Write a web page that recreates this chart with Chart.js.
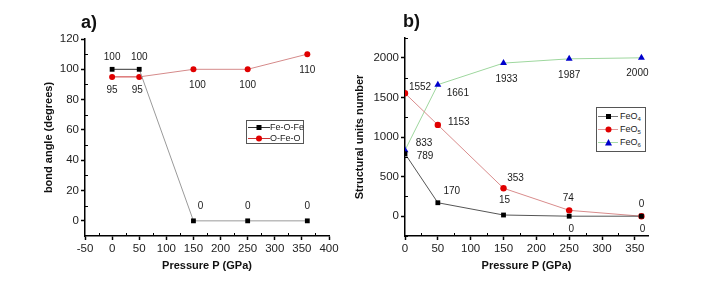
<!DOCTYPE html>
<html>
<head>
<meta charset="utf-8">
<script src="https://cdn.jsdelivr.net/npm/chart.js@4/dist/chart.umd.min.js"></script>
<style>
  html, body { margin: 0; padding: 0; background: #fff; }
  #wrap { position: relative; width: 706px; height: 287px; overflow: hidden; background: #fff; }
  #cA { position: absolute; left: 0; top: 0; }
  #cB { position: absolute; left: 350px; top: 0; }
  .legend { position: absolute; border: 1px solid #555; background: #fff;
            font-family: "Liberation Sans", Arial, sans-serif; font-size: 9px; color: #222; box-sizing: border-box; }
  .legend .row { position: absolute; left: 0; height: 11px; line-height: 11px; white-space: nowrap; }
  .legend svg { position: absolute; top: 1px; }
  .legend span { position: absolute; top: 0; }
  .legend sub { font-size: 6px; vertical-align: -2px; line-height: 0; }
</style>
</head>
<body>
<div id="wrap">
  <canvas id="cA" width="350" height="287"></canvas>
  <canvas id="cB" width="356" height="287"></canvas>

  <div class="legend" style="left:246px; top:120px; width:58px; height:24px;">
    <div class="row" style="top:1px;">
      <svg width="22" height="9" style="left:1px"><line x1="0" y1="4.5" x2="22" y2="4.5" stroke="#333" stroke-width="1"/><rect x="8.5" y="2" width="5" height="5" fill="#000"/></svg>
      <span style="left:23px">Fe-O-Fe</span>
    </div>
    <div class="row" style="top:12px;">
      <svg width="22" height="9" style="left:1px"><line x1="0" y1="4.5" x2="22" y2="4.5" stroke="#cc3333" stroke-width="1"/><circle cx="11" cy="4.5" r="3" fill="#e00000"/></svg>
      <span style="left:23px">O-Fe-O</span>
    </div>
  </div>

  <div class="legend" style="left:596px; top:107px; width:50px; height:45px;">
    <div class="row" style="top:3px;">
      <svg width="20" height="9" style="left:1px"><line x1="0" y1="4.5" x2="20" y2="4.5" stroke="#777" stroke-width="1"/><rect x="8" y="2" width="5" height="5" fill="#000"/></svg>
      <span style="left:23px">FeO<sub>4</sub></span>
    </div>
    <div class="row" style="top:16px;">
      <svg width="20" height="9" style="left:1px"><line x1="0" y1="4.5" x2="20" y2="4.5" stroke="#e09a9a" stroke-width="1"/><circle cx="10.5" cy="4.5" r="3" fill="#e00000"/></svg>
      <span style="left:23px">FeO<sub>5</sub></span>
    </div>
    <div class="row" style="top:29px;">
      <svg width="20" height="9" style="left:1px"><line x1="0" y1="4.5" x2="20" y2="4.5" stroke="#a8dca8" stroke-width="1"/><polygon points="10.5,1 14,7.5 7,7.5" fill="#0000cc"/></svg>
      <span style="left:23px">FeO<sub>6</sub></span>
    </div>
  </div>
</div>

<script>
// ---------------- DATA ----------------
// Panel a) bond angles
const pressureA = [0, 50, 150, 250, 360];
const feOFe = [100, 100, 0, 0, 0];
const oFeO = [95, 95, 100, 100, 110];
const yTicksA = [0, 20, 40, 60, 80, 100, 120];
const xTicksA = [-50, 0, 50, 100, 150, 200, 250, 300, 350, 400];

// Panel b) structural units
const pressureB = [0, 50, 150, 250, 360];
const feO4 = [789, 170, 15, 0, 0];
const feO5 = [1552, 1153, 353, 74, 0];
const feO6 = [833, 1661, 1933, 1987, 2000];
const yTicksB = [0, 500, 1000, 1500, 2000];
const xTicksB = [0, 50, 100, 150, 200, 250, 300, 350];

// ---------------- STYLE ----------------
const FONT = '"Liberation Sans", Arial, Helvetica, sans-serif';
Chart.defaults.font.family = FONT;
Chart.defaults.color = '#222';

// label offsets (pixels, text centre relative to point)
const offsetsA = [
  [[0, -12], [0, -12], [7, -15], [0, -15], [0, -15]],
  [[0, 13], [-2, 13], [4, 16], [0, 16], [0, 16]]
];
const offsetsB = [
  [[20, 3], [14, -11], [1, -15], [2, 13], [1, 13]],
  [[15, -6], [21, -3], [12, -10], [-1, -12], [0, -12]],
  [[19, -7], [20, 9], [3, 16], [0, 16], [-4, 15]]
];

const toXY = (xs, ys) => xs.map((x, i) => ({ x: x, y: ys[i] }));
const fixTicks = vals => (scale) => { scale.ticks = vals.map(v => ({ value: v })); };

const decor = {
  id: 'decor',
  afterDraw(chart, args, o) {
    const ctx = chart.ctx;
    const xs = chart.scales.x, ys = chart.scales.y;
    ctx.save();
    // minor ticks (inward)
    ctx.strokeStyle = '#000';
    ctx.lineWidth = 1;
    o.xMinor.forEach(v => {
      const px = Math.round(xs.getPixelForValue(v)) + 0.5;
      ctx.beginPath(); ctx.moveTo(px, ys.bottom); ctx.lineTo(px, ys.bottom - 3); ctx.stroke();
    });
    o.yMinor.forEach(v => {
      const py = Math.round(ys.getPixelForValue(v)) + 0.5;
      ctx.beginPath(); ctx.moveTo(xs.left, py); ctx.lineTo(xs.left + 3, py); ctx.stroke();
    });
    // data labels
    ctx.font = '10px ' + FONT;
    ctx.fillStyle = '#1a1a1a';
    ctx.textAlign = 'center';
    ctx.textBaseline = 'middle';
    chart.data.datasets.forEach((ds, di) => {
      const meta = chart.getDatasetMeta(di);
      meta.data.forEach((pt, i) => {
        const off = o.offsets[di][i];
        ctx.fillText(String(ds.data[i].y), pt.x + off[0], pt.y + off[1]);
      });
    });
    // panel letter
    ctx.font = 'bold 18px ' + FONT;
    ctx.fillStyle = '#111';
    ctx.textAlign = 'left';
    ctx.textBaseline = 'alphabetic';
    ctx.fillText(o.title, o.titleX, o.titleY);
    ctx.restore();
  }
};

function axisCommon(extra) {
  return Object.assign({
    type: 'linear',
    grid: { display: true, drawOnChartArea: false, drawTicks: true, tickLength: 4, tickWidth: 1.5, tickColor: '#000' },
    border: { display: true, color: '#000', width: 1.5 },
    ticks: { font: { size: 11.5 }, color: '#222', padding: 2, callback: v => String(v) }
  }, extra);
}

// ---------------- CHART A ----------------
new Chart(document.getElementById('cA'), {
  type: 'line',
  data: {
    datasets: [
      {
        label: 'Fe-O-Fe',
        data: toXY(pressureA, feOFe),
        borderColor: '#999',
        borderWidth: 1,
        segment: { borderColor: c => c.p0DataIndex === 0 ? '#333' : '#9a9a9a' },
        pointStyle: 'rect', pointRadius: 3.4,
        pointBackgroundColor: '#000', pointBorderColor: '#000', pointBorderWidth: 0,
        tension: 0
      },
      {
        label: 'O-Fe-O',
        data: toXY(pressureA, oFeO),
        borderColor: '#d58a8a',
        borderWidth: 1,
        segment: { borderColor: c => c.p0DataIndex === 0 ? '#cc3333' : '#d58a8a' },
        pointStyle: 'circle', pointRadius: 3,
        pointBackgroundColor: '#e00000', pointBorderColor: '#e00000', pointBorderWidth: 0,
        tension: 0
      }
    ]
  },
  options: {
    responsive: false,
    animation: false,
    devicePixelRatio: 1,
    layout: { padding: { left: 0, right: 21, top: 39, bottom: 0 } },
    plugins: {
      legend: { display: false },
      tooltip: { enabled: false },
      decor: {
        offsets: offsetsA,
        xMinor: [-25, 25, 75, 125, 175, 225, 275, 325, 375],
        yMinor: [10, 30, 50, 70, 90, 110],
        title: 'a)', titleX: 81, titleY: 28
      }
    },
    scales: {
      x: axisCommon({
        min: -50, max: 400,
        afterBuildTicks: fixTicks(xTicksA),
        afterFit: s => { s.height = 51; },
        title: { display: true, text: 'Pressure P (GPa)', font: { size: 11, weight: 'bold' }, color: '#111', padding: { top: 0, bottom: 14 } }
      }),
      y: axisCommon({
        min: -10, max: 120,
        afterBuildTicks: fixTicks(yTicksA),
        afterFit: s => { s.width = 85; },
        title: { display: true, text: 'bond angle (degrees)', font: { size: 11, weight: 'bold' }, color: '#111', padding: { top: 42, bottom: 0 } }
      })
    }
  },
  plugins: [decor]
});

// ---------------- CHART B ----------------
new Chart(document.getElementById('cB'), {
  type: 'line',
  data: {
    datasets: [
      {
        label: 'FeO4',
        data: toXY(pressureB, feO4),
        borderColor: '#555',
        borderWidth: 1,
        pointStyle: 'rect', pointRadius: 3.4,
        pointBackgroundColor: '#000', pointBorderColor: '#000', pointBorderWidth: 0,
        tension: 0
      },
      {
        label: 'FeO5',
        data: toXY(pressureB, feO5),
        borderColor: '#d98c8c',
        borderWidth: 1,
        pointStyle: 'circle', pointRadius: 3.2,
        pointBackgroundColor: '#e00000', pointBorderColor: '#e00000', pointBorderWidth: 0,
        tension: 0
      },
      {
        label: 'FeO6',
        data: toXY(pressureB, feO6),
        borderColor: '#9ed79e',
        borderWidth: 1,
        pointStyle: 'triangle', pointRadius: 4,
        pointBackgroundColor: '#0000cc', pointBorderColor: '#0000cc', pointBorderWidth: 0,
        tension: 0
      }
    ]
  },
  options: {
    responsive: false,
    animation: false,
    devicePixelRatio: 1,
    layout: { padding: { left: 0, right: 58, top: 38, bottom: 0 } },
    plugins: {
      legend: { display: false },
      tooltip: { enabled: false },
      decor: {
        offsets: offsetsB,
        xMinor: [25, 75, 125, 175, 225, 275, 325],
        yMinor: [-250, 250, 750, 1250, 1750, 2250],
        title: 'b)', titleX: 53, titleY: 27
      }
    },
    scales: {
      x: axisCommon({
        min: 0, max: 370,
        afterBuildTicks: fixTicks(xTicksB),
        afterFit: s => { s.height = 51; },
        title: { display: true, text: 'Pressure P (GPa)', font: { size: 11, weight: 'bold' }, color: '#111', padding: { top: 0, bottom: 14 } }
      }),
      y: axisCommon({
        min: -250, max: 2250,
        afterBuildTicks: fixTicks(yTicksB),
        afterFit: s => { s.width = 55; },
        title: { display: true, text: 'Structural units number', font: { size: 11, weight: 'bold' }, color: '#111', padding: { top: 3, bottom: 0 } }
      })
    }
  },
  plugins: [decor]
});
</script>
</body>
</html>
